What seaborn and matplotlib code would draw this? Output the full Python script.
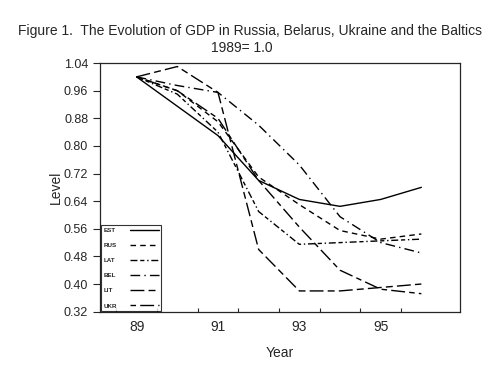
import numpy as np
import pandas as pd
import seaborn as sns
import matplotlib.pyplot as plt

# GDP index, 1989 = 1.0
years = [89, 90, 91, 92, 93, 94, 95, 96]
est = [1.00, 0.915, 0.83, 0.70, 0.645, 0.625, 0.645, 0.68]
rus = [1.00, 0.96, 0.87, 0.71, 0.63, 0.555, 0.53, 0.545]
lat = [1.00, 0.95, 0.84, 0.61, 0.515, 0.52, 0.525, 0.53]
bel = [1.00, 0.975, 0.955, 0.86, 0.745, 0.595, 0.52, 0.49]
lit = [1.00, 1.03, 0.955, 0.50, 0.38, 0.38, 0.39, 0.40]
ukr = [1.00, 0.96, 0.88, 0.70, 0.565, 0.44, 0.385, 0.372]
countries = ['EST', 'RUS', 'LAT', 'BEL', 'LIT', 'UKR']
year_labels = ['89', '91', '93', '95']

series = dict(zip(countries, [est, rus, lat, bel, lit, ukr]))
df = pd.DataFrame([(c, y, v) for c in countries for y, v in zip(years, series[c])],
                  columns=['country', 'year', 'level'])

sns.set_style('ticks')
plt.rcParams['font.family'] = ['Liberation Sans', 'DejaVu Sans']

dashes = {
    'EST': '',
    'RUS': (4, 3),
    'LAT': (5, 2, 3, 2, 1, 2),
    'BEL': (7, 3, 1, 3),
    'LIT': (10, 3, 5, 3),
    'UKR': (4, 3, 10, 3),
}

fig, ax = plt.subplots(figsize=(5, 3.71), dpi=100)
fig.subplots_adjust(left=0.2, right=0.92, top=0.83, bottom=0.16)

sns.lineplot(data=df, x='year', y='level', style='country', style_order=countries,
             dashes=dashes, color='black', linewidth=1.0, legend=False, ax=ax)

ax.set_xlim(88.1, 96.95)
ax.set_ylim(0.32, 1.04)
ax.set_yticks(np.arange(0.32, 1.041, 0.08))
ax.set_yticklabels([f'{v:.2f}' for v in np.arange(0.32, 1.041, 0.08)])
ax.set_xticks(np.arange(88.5, 96, 1.0))
ax.set_xticklabels([])
ax.set_xticks([89, 91, 93, 95], minor=True)
ax.set_xticklabels(year_labels, minor=True)
ax.tick_params(axis='x', which='minor', length=0, pad=6)
ax.tick_params(axis='x', which='major', length=3, direction='in')
ax.tick_params(axis='y', length=5, direction='out')
ax.tick_params(labelsize=9)
for s in ax.spines.values():
    s.set_linewidth(0.9)
    s.set_visible(True)

ax.set_xlabel('Year', fontsize=10, labelpad=9)
ax.set_ylabel('Level', fontsize=10, labelpad=1)

handles = ax.get_lines()[:len(countries)]
leg = ax.legend(handles, countries, loc='lower left', markerfirst=False,
                prop={'size': 4.5, 'weight': 'bold'}, handlelength=4.5,
                frameon=True, fancybox=False, edgecolor='black',
                borderaxespad=0.1, labelspacing=1.55, handletextpad=2.2)
leg.get_frame().set_linewidth(0.8)

# labels left-aligned, samples right-aligned: widen the gap for short labels
fig.canvas.draw()
renderer = fig.canvas.get_renderer()
widths = [t.get_window_extent(renderer).width for t in leg.get_texts()]
rows = leg._legend_handle_box.get_children()[0].get_children()
for row, w in zip(rows, widths):
    row.sep += (max(widths) - w) * 72 / fig.dpi

fig.text(0.5, 0.905, 'Figure 1.  The Evolution of GDP in Russia, Belarus, Ukraine and the Baltics',
         ha='center', fontsize=10)
fig.text(0.483, 0.86, '1989= 1.0', ha='center', fontsize=10)

fig.savefig('out.png', dpi=100)
